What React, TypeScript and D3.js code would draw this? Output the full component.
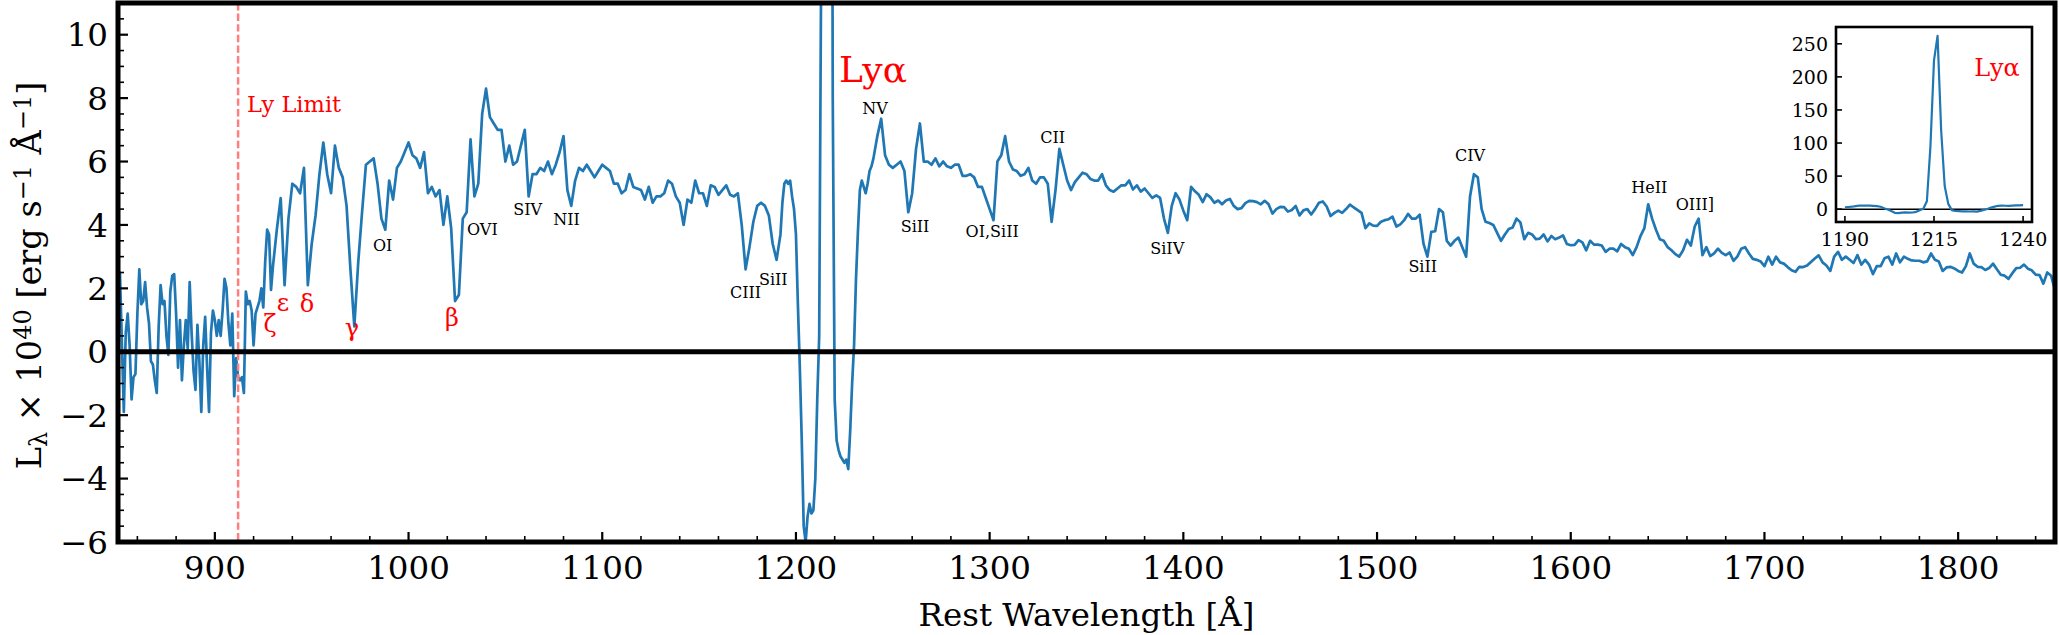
import React from 'react';
import * as d3 from 'd3';

// spectrum (rest wavelength in Å, L_lambda in 1e40 erg/s/Å)
// 850–930 Å, 1 Å steps
const fluxBlue = [
  -0.2, 2.5, 0.3, -1.9, 0.6, 1.2, 0.2, -1.5, -0.8, -0.7,
  1.2, 2.6, 1.5, 1.6, 2.2, 1.4, 0.9, -0.3, -0.4, -0.9,
  -1.3, 0.8, 2.1, 1.5, 1.6, 0.5, -0.1, 1.9, 2.4, 2.45,
  1.2, -0.5, 1.0, -0.9, 0.2, 1.0, 0.1, 2.2, 0.6, -0.6,
  -1.2, 0.85, -0.3, -1.9, 0.2, 1.1, -0.5, -1.9, 0.6, 1.3,
  1.0, 0.5, 1.0, 0.5, 1.3, 2.3, 2.0, 0.9, 0.2, 1.2,
  -1.4, -0.2, -0.8, -0.9, -0.8, -1.3, 1.9, 1.5, 1.6, 1.3,
  0.2, 1.2, 1.4, 1.6, 2.0, 1.4, 2.85, 3.85, 3.7, 1.95,
  2.7,
];
// 932–1030 Å, 2 Å steps
const flux0932 = [
  3.85, 4.85, 2.1, 4.2, 5.3, 5.2, 5.0, 5.8, 2.1, 3.4,
  4.3, 5.6, 6.6, 5.6, 5.0, 6.5, 5.8, 5.5, 4.6, 2.6,
  0.8, 2.8, 4.4, 5.9, 6.0, 6.1, 5.3, 4.2, 3.85, 5.4,
  4.8, 5.8, 6.0, 6.3, 6.6, 6.2, 6.1, 5.8, 6.3, 5.0,
  5.2, 4.9, 5.1, 4.0, 4.9, 3.9, 1.6, 1.8, 4.2, 4.4,
];
// 1032–1130 Å
const flux1032 = [
  6.7, 4.9, 5.3, 7.5, 8.3, 7.4, 7.2, 7.0, 7.0, 6.0,
  6.5, 5.9, 6.0, 6.5, 7.0, 4.9, 5.6, 5.6, 5.8, 5.7,
  6.0, 5.6, 5.9, 6.3, 6.8, 5.1, 4.6, 5.4, 5.8, 5.7,
  5.9, 5.7, 5.5, 5.7, 5.9, 5.8, 5.7, 5.3, 5.3, 5.0,
  5.1, 5.6, 5.2, 5.15, 5.1, 4.8, 5.2, 4.7, 4.9, 4.9,
];
// 1132–1188 Å
const flux1132 = [
  5.0, 5.4, 5.3, 4.9, 4.7, 4.0, 4.8, 4.7, 5.4, 5.0,
  5.0, 4.6, 5.25, 5.2, 4.95, 5.1, 5.25, 4.95, 4.9, 5.0,
  4.0, 2.6, 3.3, 4.1, 4.6, 4.7, 4.6, 4.3, 3.4,
];
// 1190–1240 Å, 1 Å steps (Lya window, also used by the inset)
const fluxLya = [
  2.9, 3.3, 3.7, 4.7, 5.3, 5.4, 5.3, 5.4, 4.9, 4.5,
  3.7, 1.5, -0.5, -2.8, -5.5, -6.0, -5.2, -4.8, -5.1, -5.0,
  -4.0, -1.5, 0.5, 12, 95, 225, 262, 120, 35, 8,
  -1.5, -2.8, -3.1, -3.3, -3.4, -3.5, -3.4, -3.7, -2.5, -1.0,
  0.2, 2.3, 3.8, 5.1, 5.4, 5.2, 5.0, 5.3, 5.7, 5.85,
  6.1,
];
// 1242–1340 Å, 2 Å steps
const flux1242 = [
  6.8, 7.35, 6.2, 5.9, 5.8, 5.9, 6.0, 5.7, 4.4, 5.0,
  6.4, 7.2, 6.0, 6.0, 5.9, 6.1, 5.85, 6.0, 5.85, 5.8,
  5.9, 5.9, 5.55, 5.55, 5.6, 5.5, 5.2, 5.2, 4.85, 4.5,
  4.15, 6.0, 6.2, 6.8, 6.0, 5.75, 5.7, 5.55, 5.6, 5.8,
  5.4, 5.3, 5.5, 5.5, 5.3, 4.1, 5.1, 6.4, 5.9, 5.4,
];
// 1342–1440 Å
const flux1342 = [
  5.1, 5.35, 5.5, 5.65, 5.6, 5.45, 5.4, 5.4, 5.6, 5.25,
  5.1, 5.05, 5.15, 5.25, 5.25, 5.4, 5.12, 5.25, 5.05, 5.15,
  5.0, 4.85, 4.93, 4.85, 4.2, 3.75, 4.6, 5.0, 4.8, 4.45,
  4.15, 5.2, 5.06, 4.95, 4.72, 4.97, 4.87, 4.7, 4.77, 4.65,
  4.77, 4.82, 4.6, 4.5, 4.53, 4.69, 4.76, 4.75, 4.72, 4.65,
];
// 1442–1540 Å
const flux1442 = [
  4.76, 4.65, 4.36, 4.5, 4.57, 4.56, 4.42, 4.47, 4.6, 4.3,
  4.46, 4.5, 4.33, 4.5, 4.7, 4.74, 4.58, 4.28, 4.38, 4.45,
  4.38, 4.5, 4.64, 4.55, 4.47, 4.38, 3.9, 4.05, 3.98, 3.97,
  4.1, 4.15, 4.18, 4.26, 3.95, 4.02, 4.15, 4.35, 4.2, 4.2,
  4.32, 3.4, 3.0, 3.78, 3.8, 4.5, 4.4, 3.5, 3.35, 3.5,
];
// 1542–1640 Å
const flux1542 = [
  3.6, 3.3, 3.0, 4.9, 5.6, 5.5, 4.5, 4.1, 4.06, 4.0,
  3.75, 3.5, 3.7, 3.87, 3.92, 4.2, 4.08, 3.55, 3.75, 3.7,
  3.55, 3.57, 3.7, 3.48, 3.65, 3.55, 3.6, 3.67, 3.4, 3.36,
  3.37, 3.52, 3.45, 3.2, 3.5, 3.38, 3.38, 3.35, 3.15, 3.25,
  3.25, 3.17, 3.4, 3.3, 3.25, 3.05, 3.3, 3.65, 3.9, 4.65,
];
// 1642–1740 Å
const flux1642 = [
  4.2, 3.85, 3.55, 3.5, 3.3, 3.2, 3.08, 3.0, 3.2, 3.53,
  3.35, 3.95, 4.2, 3.05, 3.3, 3.02, 3.1, 3.25, 3.12, 3.05,
  3.13, 2.87, 3.0, 3.25, 3.3, 3.1, 2.93, 2.9, 2.85, 2.7,
  3.0, 2.75, 3.0, 2.82, 2.78, 2.67, 2.57, 2.52, 2.68, 2.67,
  2.72, 2.83, 2.94, 3.04, 2.82, 2.72, 2.55, 3.0, 3.15, 2.9,
];
// 1742–1850 Å
const flux1742 = [
  3.0, 2.9, 2.8, 3.05, 2.75, 2.9, 2.75, 2.45, 2.7, 2.7,
  2.95, 3.0, 2.75, 3.1, 2.82, 3.0, 2.93, 2.88, 2.87, 2.87,
  2.82, 2.85, 3.1, 2.9, 2.85, 2.55, 2.66, 2.68, 2.63, 2.55,
  2.5, 2.7, 3.1, 2.78, 2.68, 2.67, 2.58, 2.64, 2.78, 2.6,
  2.43, 2.4, 2.3, 2.48, 2.64, 2.65, 2.75, 2.62, 2.57, 2.43,
  2.42, 2.15, 2.5, 2.4, 1.95,
];

// [start wavelength, step, values]
const segments: [number, number, number[]][] = [
  [850, 1, fluxBlue],
  [932, 2, flux0932],
  [1032, 2, flux1032],
  [1132, 2, flux1132],
  [1190, 1, fluxLya],
  [1242, 2, flux1242],
  [1342, 2, flux1342],
  [1442, 2, flux1442],
  [1542, 2, flux1542],
  [1642, 2, flux1642],
  [1742, 2, flux1742],
];

// metal line labels (text, wavelength, flux of the label)
const metalNames = ['OI', 'OVI', 'SIV', 'NII', 'CIII', 'SiII', 'NV', 'SiII', 'OI,SiII', 'CII', 'SiIV', 'SiII', 'CIV', 'HeII', 'OIII]'];
const metalWaves = [986.6, 1038.1, 1061.5, 1081.6, 1174.0, 1188.3, 1240.8, 1261.5, 1301.3, 1332.5, 1391.7, 1523.6, 1548.0, 1640.6, 1664.1];
const metalFlux = [3.19, 3.69, 4.32, 4.0, 1.69, 2.11, 7.51, 3.79, 3.61, 6.59, 3.09, 2.51, 6.03, 5.0, 4.48];

// Lyman series labels
const lymanNames = ['ζ', 'ε', 'δ', 'γ', 'β'];
const lymanWaves = [928.5, 935.2, 947.6, 970.8, 1022.4];
const lymanFlux = [0.63, 1.3, 1.26, 0.5, 0.82];

const lyLimit = 912;
const insetXTicks = [1190, 1215, 1240];

const FONT = 'DejaVu Serif';
const BLUE = '#1f77b4';

export default function App() {
  const W = 2059, H = 635;
  const m = { left: 118, right: 2055, top: 3, bottom: 542 };
  const x = d3.scaleLinear().domain([850, 1850]).range([m.left, m.right]);
  const y = d3.scaleLinear().domain([-6, 11]).range([m.bottom, m.top]);

  const pts: [number, number][] = segments.flatMap(([s, st, v]) =>
    v.map((f, i) => [s + i * st, f] as [number, number]));
  const line = d3.line<[number, number]>().x(d => x(d[0])).y(d => y(d[1]));

  const xMajor = x.ticks(10);
  const xMinor = d3.range(860, 1850, 20).filter(v => v % 100 !== 0);
  const yMajor = y.ticks(8);
  const yMinor = d3.range(-6, 11.01, 0.5).filter(v => v % 2 !== 0);

  // inset
  const im = { left: 1836, right: 2032, top: 27, bottom: 222 };
  const ix = d3.scaleLinear().domain([1187.5, 1242.5]).range([im.left, im.right]);
  const iy = d3.scaleLinear().domain([-19.4, 275.4]).range([im.bottom, im.top]);
  const lyaPts: [number, number][] = fluxLya.map((f, i) => [1190 + i, f]);
  const iline = d3.line<[number, number]>().x(d => ix(d[0])).y(d => iy(d[1]));

  const fmt = (v: number) => (v < 0 ? '\u2212' + Math.abs(v) : String(v));

  return (
    <svg width={W} height={H} style={{ position: 'absolute', left: 0, top: 0, background: '#fff' }}
      fontFamily={FONT}>
      <defs>
        <clipPath id="plotclip">
          <rect x={m.left} y={m.top} width={m.right - m.left} height={m.bottom - m.top} />
        </clipPath>
        <clipPath id="insetclip">
          <rect x={im.left} y={im.top} width={im.right - im.left} height={im.bottom - im.top} />
        </clipPath>
      </defs>
      <rect width={W} height={H} fill="#fff" />

      <g clipPath="url(#plotclip)">
        <path d={line(pts) ?? ''} fill="none" stroke={BLUE} strokeWidth={2.7} strokeLinejoin="round" />
        <line x1={x(lyLimit)} x2={x(lyLimit)} y1={m.top} y2={m.bottom}
          stroke="#ff7f7f" strokeWidth={2.5} strokeDasharray="7.4 3.2" />
      </g>
      <line x1={m.left} x2={m.right} y1={y(0)} y2={y(0)} stroke="#000" strokeWidth={4.8} />

      {/* ticks */}
      {xMajor.map(t => (
        <g key={'xm' + t}>
          <line x1={x(t)} x2={x(t)} y1={m.bottom} y2={m.bottom - 10} stroke="#000" strokeWidth={2.2} />
          <text x={x(t)} y={579} textAnchor="middle" fontSize={32.5}>{t}</text>
        </g>
      ))}
      {xMinor.map(t => (
        <line key={'xn' + t} x1={x(t)} x2={x(t)} y1={m.bottom} y2={m.bottom - 6} stroke="#000" strokeWidth={1.6} />
      ))}
      {yMajor.map(t => (
        <g key={'ym' + t}>
          <line x1={m.left} x2={m.left + 10} y1={y(t)} y2={y(t)} stroke="#000" strokeWidth={2.2} />
          <text x={108} y={y(t)} dy="0.36em" textAnchor="end" fontSize={32.5}>{fmt(t)}</text>
        </g>
      ))}
      {yMinor.map(t => (
        <line key={'yn' + t} x1={m.left} x2={m.left + 6} y1={y(t)} y2={y(t)} stroke="#000" strokeWidth={1.6} />
      ))}

      {/* frame */}
      <rect x={m.left} y={m.top} width={m.right - m.left} height={m.bottom - m.top}
        fill="none" stroke="#000" strokeWidth={5} />

      {/* axis titles */}
      <text x={(m.left + m.right) / 2} y={626} textAnchor="middle" fontSize={32.5}>Rest Wavelength [Å]</text>
      <text transform={`translate(41,${(m.top + m.bottom) / 2 + 3}) rotate(-90)`} textAnchor="middle" fontSize={33.5}>
        L<tspan baselineShift="-25%" fontSize={24}>λ</tspan>
        <tspan> × 10</tspan><tspan baselineShift="40%" fontSize={24}>40</tspan>
        <tspan> [erg s</tspan><tspan baselineShift="40%" fontSize={24}>−1</tspan>
        <tspan> Å</tspan><tspan baselineShift="40%" fontSize={24}>−1</tspan>
        <tspan>]</tspan>
      </text>

      {/* annotations */}
      <text x={x(916.6)} y={y(7.57)} fill="red" fontSize={22.5}>Ly Limit</text>
      {lymanNames.map((n, i) => (
        <text key={'ly' + i} x={x(lymanWaves[i])} y={y(lymanFlux[i])} textAnchor="middle" fill="red" fontSize={24}>{n}</text>
      ))}
      {metalNames.map((n, i) => (
        <text key={'mt' + i} x={x(metalWaves[i])} y={y(metalFlux[i])} textAnchor="middle" fontSize={16}>{n}</text>
      ))}
      <text x={x(1239.8)} y={y(8.52)} textAnchor="middle" fill="red" fontSize={36}>Lyα</text>

      {/* inset */}
      <rect x={im.left} y={im.top} width={im.right - im.left} height={im.bottom - im.top} fill="#fff" />
      <g clipPath="url(#insetclip)">
        <line x1={im.left} x2={im.right} y1={iy(0)} y2={iy(0)} stroke="#000" strokeWidth={1.5} />
        <path d={iline(lyaPts) ?? ''} fill="none" stroke={BLUE} strokeWidth={2.2} strokeLinejoin="round" />
      </g>
      {insetXTicks.map(t => (
        <g key={'ix' + t}>
          <line x1={ix(t)} x2={ix(t)} y1={im.bottom} y2={im.bottom - 6} stroke="#000" strokeWidth={1.6} />
          <text x={ix(t)} y={246} textAnchor="middle" fontSize={19}>{t}</text>
        </g>
      ))}
      {iy.ticks(6).map(t => (
        <g key={'iy' + t}>
          <line x1={im.left} x2={im.left + 6} y1={iy(t)} y2={iy(t)} stroke="#000" strokeWidth={1.6} />
          <text x={1828} y={iy(t)} dy="0.36em" textAnchor="end" fontSize={19}>{t}</text>
        </g>
      ))}
      <rect x={im.left} y={im.top} width={im.right - im.left} height={im.bottom - im.top}
        fill="none" stroke="#000" strokeWidth={2.6} />
      <text x={1997} y={76} textAnchor="middle" fill="red" fontSize={24}>Lyα</text>
    </svg>
  );
}
